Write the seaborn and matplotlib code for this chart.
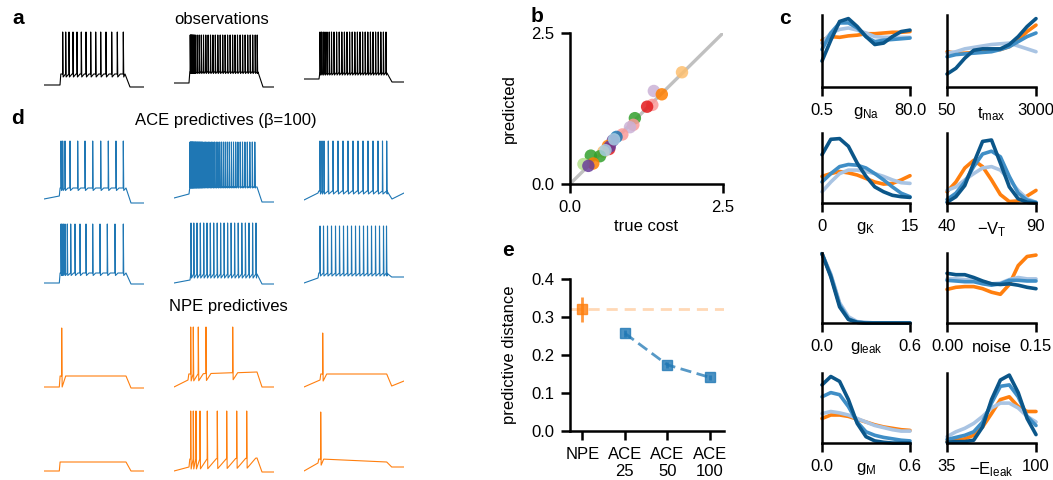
import numpy as np
import pandas as pd
import matplotlib
matplotlib.use("Agg")
import matplotlib.pyplot as plt
import seaborn as sns

# ---------------- data ----------------
# voltage traces: spike times on a 0-100 time axis
obs_spikes = [
    [18.7, 21.7, 25.0, 29.0, 33.0, 37.3, 42.0, 46.7, 51.7, 56.7, 62.0, 67.7, 73.3, 79.3],
    [16.2, 16.7, 17.2, 17.7, 18.3, 18.9, 19.6, 20.4, 21.3, 23.2, 25.2, 27.3, 29.5, 31.8,
     34.1, 36.5, 38.9, 41.3, 43.8, 46.2, 48.7, 51.1, 53.6, 56.1, 58.6, 61.0, 63.5, 66.1,
     68.6, 71.1, 73.7, 76.2, 78.7, 81.2, 83.2],
    [16.0, 17.5, 19.2, 21.0, 23.0, 25.2, 27.5, 30.0, 32.6, 35.2, 37.8, 40.4, 43.0, 45.6,
     48.2, 50.8, 53.4, 56.0, 58.6, 61.2, 63.8, 66.4, 69.0, 71.6, 74.2, 76.8, 79.4, 82.0],
]
ace_spikes = [
    [17.0, 18.7, 21.0, 26.0, 33.7, 41.0, 48.7, 56.7, 64.3, 72.0, 79.3],
    [16.0, 16.5, 17.0, 17.5, 18.0, 18.5, 19.0, 19.6, 20.2, 20.8, 21.4, 22.0, 22.7, 23.4,
     24.1, 24.8, 25.5, 26.3, 27.1, 27.9, 28.8, 30.2, 31.5, 32.9, 34.3, 35.8, 37.3, 38.9,
     40.5, 42.2, 43.9, 45.7, 47.5, 49.4, 51.3, 53.3, 55.3, 57.4, 59.5, 61.7, 63.9, 66.2,
     68.5, 70.9, 73.3, 75.8, 78.3, 80.8],
    [16.0, 18.0, 20.0, 24.3, 29.0, 34.0, 39.0, 44.0, 49.0, 54.0, 59.0, 64.0, 69.0, 74.0,
     78.5, 82.7],
    [17.0, 18.0, 19.3, 21.0, 23.3, 26.7, 31.0, 36.0, 42.0, 48.7, 56.0, 63.3, 71.0, 79.3],
    [17.0, 19.8, 23.0, 26.3, 29.7, 33.0, 36.3, 39.7, 43.2, 46.6, 50.1, 53.6, 57.1, 60.6,
     64.2, 67.8, 71.4, 75.0, 78.6, 82.0],
    [16.0, 19.5, 23.5, 27.5, 31.5, 35.5, 39.5, 43.5, 47.5, 51.5, 55.5, 59.5, 63.5, 67.5,
     71.5, 75.5, 79.5, 82.5],
]
npe_spikes = [
    [17.7],
    [16.7, 19.3, 24.3, 32.0, 58.7],
    [18.7],
    [],
    [16.7, 19.3, 22.0, 26.0, 33.3, 43.3, 52.7, 62.7, 72.7],
    [16.7],
]
# rest0, rest1, plat0, plat1, post, end, peak, ahp, t_on, t_off, recovery
obs_levels = [
    [-68, -68, -46, -46, -72, -72, 38, 6, 16.0, 81.0, 3],
    [-64, -64, -42, -42, -72, -72, 32, 3, 15.0, 84.0, 1.5],
    [-56, -56, -44, -44, -62, -62, 38, 4, 15.0, 83.0, 2],
]
ace_levels = [
    [-78, -72, -56, -56, -86, -86, 38, 5, 15.3, 82.0, 3],
    [-76, -68, -54, -54, -84, -84, 36, 2, 15.0, 83.0, 1],
    [-80, -66, -62, -62, -78, -66, 38, 6, 14.0, 83.0, 4],
    [-80, -80, -60, -60, -82, -82, 38, 5, 15.3, 82.0, 3],
    [-80, -74, -62, -62, -82, -82, 40, 8, 16.0, 83.0, 3.4],
    [-80, -70, -60, -60, -68, -68, 34, 6, 14.0, 82.7, 4],
]
npe_levels = [
    [-80, -80, -58, -58, -82, -82, 38, 22, 15.3, 82.0, 4],
    [-80, -66, -54, -50, -80, -80, 40, 14, 14.0, 83.0, 5],
    [-80, -66, -54, -54, -78, -68, 28, 14, 16.0, 82.7, 4],
    [-82, -82, -64, -64, -82, -82, 0, 0, 15.3, 82.0, 3],
    [-82, -74, -58, -56, -84, -84, 38, 20, 15.0, 83.0, 9],
    [-82, -66, -58, -64, -74, -74, 36, 12, 14.0, 82.7, 3],
]

# panel b: cost prediction
true_cost = [1.83, 1.37, 1.50, 1.345, 1.26, 1.06, 1.035, 0.98, 0.855, 0.76, 0.70, 0.62,
             0.64, 0.65, 0.545, 0.49, 0.34, 0.38, 0.22, 0.30, 0.58, 0.72]
pred_cost = [1.85, 1.54, 1.485, 1.31, 1.28, 1.09, 0.98, 0.94, 0.82, 0.78, 0.72, 0.63,
             0.58, 0.62, 0.535, 0.46, 0.47, 0.34, 0.33, 0.30, 0.56, 0.74]
cost_color = [6, 8, 7, 4, 5, 3, 4, 8, 4, 1, 9, 7, 5, 9, 6, 3, 3, 7, 2, 9, 0, 0]

# panel c: marginal densities on 11 evenly spaced points of each prior range
grid_frac = [0.0, 0.1, 0.2, 0.3, 0.4, 0.5, 0.6, 0.7, 0.8, 0.9, 1.0]
param_labels = ['$g_{Na}$', '$t_{max}$', '$g_{K}$', '$-V_{T}$',
                '$g_{leak}$', 'noise', '$g_{M}$', '$-E_{leak}$']
lo_labels = ['0.5', '50', '0', '40', '0.0', '0.00', '0.0', '35']
hi_labels = ['80.0', '3000', '15', '90', '0.6', '0.15', '0.6', '100']
dens_npe = [
    [0.65, 0.70, 0.69, 0.71, 0.72, 0.74, 0.74, 0.75, 0.76, 0.76, 0.77],
    [0.49, 0.47, 0.47, 0.48, 0.49, 0.51, 0.52, 0.56, 0.65, 0.77, 0.86],
    [0.38, 0.42, 0.45, 0.43, 0.40, 0.35, 0.30, 0.27, 0.28, 0.33, 0.39],
    [0.16, 0.30, 0.50, 0.61, 0.52, 0.33, 0.12, 0.02, 0.03, 0.10, 0.18],
    [0.99, 0.68, 0.27, 0.07, 0.01, 0.00, 0.00, 0.00, 0.00, 0.00, 0.00],
    [0.48, 0.51, 0.52, 0.52, 0.49, 0.44, 0.41, 0.55, 0.82, 0.95, 0.97],
    [0.35, 0.40, 0.40, 0.38, 0.34, 0.30, 0.26, 0.23, 0.21, 0.19, 0.18],
    [0.02, 0.04, 0.06, 0.11, 0.23, 0.42, 0.62, 0.66, 0.52, 0.45, 0.45],
]
dens_ace25 = [
    [0.61, 0.75, 0.80, 0.82, 0.79, 0.75, 0.70, 0.69, 0.69, 0.69, 0.69],
    [0.47, 0.49, 0.53, 0.55, 0.57, 0.59, 0.60, 0.61, 0.57, 0.53, 0.49],
    [0.16, 0.30, 0.42, 0.47, 0.47, 0.45, 0.42, 0.38, 0.33, 0.29, 0.28],
    [0.18, 0.23, 0.33, 0.42, 0.50, 0.52, 0.47, 0.33, 0.18, 0.06, 0.01],
    [0.99, 0.70, 0.29, 0.09, 0.02, 0.01, 0.00, 0.00, 0.00, 0.00, 0.00],
    [0.63, 0.63, 0.62, 0.61, 0.59, 0.56, 0.57, 0.62, 0.65, 0.63, 0.63],
    [0.42, 0.45, 0.43, 0.40, 0.35, 0.30, 0.25, 0.22, 0.19, 0.17, 0.17],
    [0.09, 0.16, 0.21, 0.28, 0.38, 0.50, 0.57, 0.57, 0.50, 0.38, 0.30],
]
dens_ace50 = [
    [0.52, 0.75, 0.89, 0.89, 0.82, 0.70, 0.63, 0.65, 0.66, 0.67, 0.68],
    [0.42, 0.45, 0.46, 0.47, 0.48, 0.49, 0.52, 0.56, 0.63, 0.70, 0.75],
    [0.30, 0.42, 0.52, 0.55, 0.54, 0.50, 0.42, 0.33, 0.23, 0.14, 0.09],
    [0.05, 0.14, 0.30, 0.52, 0.70, 0.74, 0.66, 0.38, 0.14, 0.04, 0.01],
    [0.99, 0.68, 0.26, 0.06, 0.01, 0.00, 0.00, 0.00, 0.00, 0.00, 0.00],
    [0.61, 0.60, 0.59, 0.59, 0.56, 0.54, 0.56, 0.61, 0.61, 0.60, 0.60],
    [0.66, 0.72, 0.69, 0.52, 0.30, 0.16, 0.11, 0.08, 0.06, 0.04, 0.03],
    [0.05, 0.08, 0.11, 0.16, 0.30, 0.57, 0.81, 0.83, 0.66, 0.38, 0.25],
]
dens_ace100 = [
    [0.36, 0.65, 0.91, 0.95, 0.84, 0.70, 0.59, 0.61, 0.70, 0.77, 0.79],
    [0.18, 0.26, 0.40, 0.51, 0.53, 0.53, 0.53, 0.59, 0.70, 0.84, 0.95],
    [0.69, 0.91, 0.92, 0.81, 0.57, 0.38, 0.23, 0.16, 0.11, 0.09, 0.08],
    [0.01, 0.09, 0.25, 0.57, 0.88, 0.90, 0.57, 0.23, 0.06, 0.01, 0.00],
    [0.99, 0.66, 0.23, 0.05, 0.01, 0.00, 0.00, 0.00, 0.00, 0.00, 0.00],
    [0.71, 0.69, 0.69, 0.65, 0.60, 0.56, 0.55, 0.56, 0.54, 0.51, 0.49],
    [0.83, 0.95, 0.88, 0.62, 0.28, 0.09, 0.03, 0.01, 0.00, 0.00, 0.00],
    [0.01, 0.02, 0.02, 0.04, 0.23, 0.62, 0.90, 0.97, 0.72, 0.35, 0.12],
]

# panel e: predictive distance
methods = ['NPE', 'ACE\n25', 'ACE\n50', 'ACE\n100']
dist_mean = [0.32, 0.257, 0.174, 0.141]
dist_err = [0.033, 0.010, 0.007, 0.006]

# ---------------- style ----------------
sns.set_style("ticks")
plt.rcParams['font.family'] = ['Liberation Sans', 'DejaVu Sans']
plt.rcParams['mathtext.default'] = 'regular'
plt.rcParams['font.size'] = 12
plt.rcParams['axes.linewidth'] = 1.8
plt.rcParams['axes.edgecolor'] = 'black'
plt.rcParams['axes.labelcolor'] = 'black'
plt.rcParams['text.color'] = 'black'
for a in ['xtick', 'ytick']:
    plt.rcParams[a + '.major.width'] = 1.8
    plt.rcParams[a + '.major.size'] = 6.5
    plt.rcParams[a + '.major.pad'] = 5
    plt.rcParams[a + '.labelsize'] = 12
    plt.rcParams[a + '.color'] = 'black'
    plt.rcParams[a + '.labelcolor'] = 'black'

ORANGE = '#ff7f0e'
BLUE = '#1f77b4'
dens_colors = [ORANGE, '#a9c4e3', '#3f8ec6', '#0b5689']

W, H = 1053, 480
fig = plt.figure(figsize=(W / 100, H / 100), dpi=100)


def px_axes(l, t, r, b):
    return fig.add_axes([l / W, 1 - b / H, (r - l) / W, (b - t) / H])


def build_trace(spikes, lv):
    rest0, rest1, plat0, plat1, post, end, peak, ahp, t_on, t_off, rec = lv
    t = [0, t_on, t_on + 0.8]
    v = [rest0, rest1, plat0]
    for i, s in enumerate(spikes):
        base = plat0 + (plat1 - plat0) * (s - t_on) / (t_off - t_on)
        t += [s - 0.15, s, s + 0.45]
        v += [base, peak, base - ahp]
        nxt = spikes[i + 1] if i + 1 < len(spikes) else t_off
        if nxt - s > rec + 0.5:
            t.append(s + rec)
            v.append(base)
    t += [t_off, t_off + 5, 100]
    v += [plat1, post, end]
    return t, v


def draw_traces(spike_sets, level_sets, tops, color):
    cols_x = [44, 174, 304]
    for k, (sp, lv) in enumerate(zip(spike_sets, level_sets)):
        l = cols_x[k % 3]
        top = tops[k // 3]
        ax = px_axes(l, top, l + 100, top + 66)
        t, v = build_trace(sp, lv)
        sns.lineplot(x=t, y=v, ax=ax, color=color, lw=0.8, sort=False, estimator=None)
        ax.set_xlim(0, 100)
        ax.set_ylim(-90, 42)
        ax.axis('off')


draw_traces(obs_spikes, obs_levels, [30], 'black')
draw_traces(ace_spikes, ace_levels, [139, 222], BLUE)
draw_traces(npe_spikes, npe_levels, [326, 409], ORANGE)

fig.text(222 / W, 1 - 19 / H, 'observations', ha='center', va='center', fontsize=12)
fig.text(226 / W, 1 - 121 / H, 'ACE predictives (β=100)', ha='center', va='center', fontsize=12)
fig.text(228 / W, 1 - 307 / H, 'NPE predictives', ha='center', va='center', fontsize=12)

# ---------------- panel b ----------------
ax = px_axes(570, 33, 723, 184)
sns.lineplot(x=[0, 2.5], y=[0, 2.5], ax=ax, color='#c0c0c0', lw=2.4, zorder=1)
pal = sns.color_palette('Paired', 10)
sns.scatterplot(x=true_cost, y=pred_cost, ax=ax, c=[pal[i] for i in cost_color],
                s=80, alpha=0.85, linewidth=0, zorder=3)
ax.set_xlim(0, 2.5)
ax.set_ylim(0, 2.5)
ax.set_xticks([0, 2.5])
ax.set_xticklabels(['0.0', '2.5'])
ax.set_yticks([0, 2.5])
ax.set_yticklabels(['0.0', '2.5'])
ax.set_xlabel('true cost', labelpad=3)
ax.set_ylabel('predicted', labelpad=10)
sns.despine(ax=ax)

# ---------------- panel e ----------------
ax = px_axes(570, 279, 724, 431)
ax.axhline(dist_mean[0], color=ORANGE, alpha=0.3, lw=2, dashes=(4, 2.5), zorder=1)
ax.errorbar([0], dist_mean[:1], yerr=dist_err[:1], fmt='s', color=ORANGE, ms=7,
            alpha=0.8, elinewidth=2, zorder=3)
sns.lineplot(x=[1, 2, 3], y=dist_mean[1:], ax=ax, color=BLUE, lw=2, alpha=0.75,
             dashes=False, linestyle=(0, (4, 2)), zorder=2)
ax.errorbar([1, 2, 3], dist_mean[1:], yerr=dist_err[1:], fmt='s', color=BLUE, ms=7,
            alpha=0.8, elinewidth=2, zorder=3)
ax.set_xlim(-0.29, 3.33)
ax.set_ylim(0, 0.4)
ax.set_xticks([0, 1, 2, 3])
ax.set_xticklabels(methods)
ax.set_yticks([0, 0.1, 0.2, 0.3, 0.4])
ax.set_ylabel('predictive distance', labelpad=10)
sns.despine(ax=ax)

# ---------------- panel c ----------------
c_cols = [(822, 910), (947, 1036)]
c_rows = [(15, 87), (133, 203), (253, 323), (373, 443)]
dens_sets = [dens_npe, dens_ace25, dens_ace50, dens_ace100]
for p in range(8):
    l, r = c_cols[p % 2]
    t, b = c_rows[p // 2]
    ax = px_axes(l, t, r, b)
    for dens, col in zip(dens_sets, dens_colors):
        sns.lineplot(x=grid_frac, y=dens[p], ax=ax, color=col, lw=2.6,
                     sort=False, estimator=None, clip_on=False)
    ax.set_xlim(0, 1)
    ax.set_ylim(0, 1)
    ax.set_xticks([0, 1])
    ax.set_xticklabels([lo_labels[p], hi_labels[p]])
    ax.set_yticks([])
    ax.set_xlabel(param_labels[p])
    ax.xaxis.set_label_coords(0.5, -0.25)
    sns.despine(ax=ax)

# panel letters
for x, y, s in [(18, 18, 'a'), (537, 16, 'b'), (785, 18, 'c'), (17, 118, 'd'), (508, 250, 'e')]:
    fig.text(x / W, 1 - y / H, s, fontsize=15, fontweight='bold', ha='center', va='center')

fig.savefig('out.png', dpi=100)
